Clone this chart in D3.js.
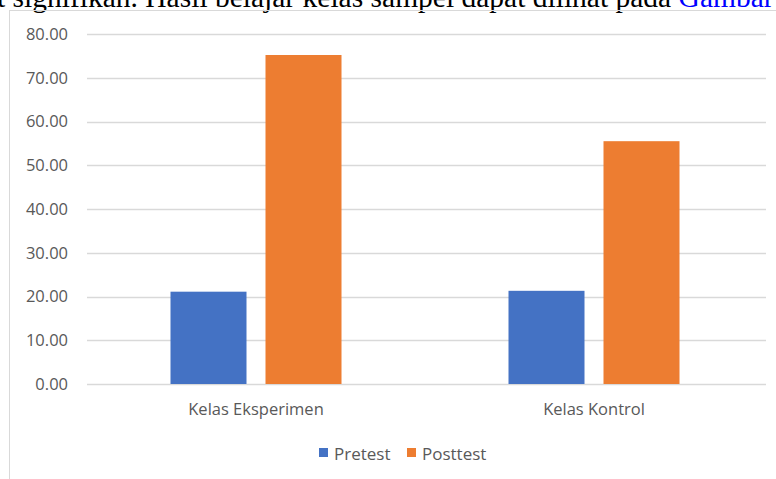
<!DOCTYPE html>
<html>
<meta charset="utf-8">
<head>
<title>pretest posttest</title>
<script src="https://d3js.org/d3.v7.min.js"></script>
<style>
  body { margin: 0; background: #fff; }
  svg { display: block; }
</style>
</head>
<body>
<div id="plot"></div>
<script>

// data
var categories = ["Kelas Eksperimen", "Kelas Kontrol"];
var seriesNames = ["Pretest", "Posttest"];
var pretest = [21.1, 21.3];
var posttest = [75.2, 55.5];
var yTicks = [0, 10, 20, 30, 40, 50, 60, 70, 80];
var captionText = "t signifikan. Hasil belajar kelas sampel dapat dilihat pada ";
var captionLink = "Gambar";

var colors = ["#4472c4", "#ed7d31"];

var width = 776, height = 479;
var plot = { left: 87, right: 763, top: 34, bottom: 384 };

var svg = d3.select("#plot").append("svg")
  .attr("width", width)
  .attr("height", height);

// caption line from the page, cut at the top
var cap = svg.append("text")
  .attr("x", -3)
  .attr("y", 7)
  .attr("font-family", "Liberation Serif, Times New Roman, serif")
  .attr("font-size", 29.5)
  .attr("fill", "#000");
cap.append("tspan").text(captionText);
cap.append("tspan").attr("fill", "#0000ff").text(captionLink);

// chart frame
svg.append("rect")
  .attr("x", 9.5)
  .attr("y", 10.5)
  .attr("width", 780)
  .attr("height", 480)
  .attr("fill", "none")
  .attr("stroke", "#d9d9d9");

var xScale = d3.scaleBand()
  .domain(categories)
  .range([plot.left, plot.right])
  .paddingInner(0)
  .paddingOuter(0);

var yScale = d3.scaleLinear()
  .domain([0, 80])
  .range([plot.bottom, plot.top]);

var barW = 76, gap = 19;
var xSeries = d3.scaleBand()
  .domain(seriesNames)
  .range([0, barW * 2 + gap])
  .paddingInner(gap / (barW + gap))
  .paddingOuter(0);

// gridlines
svg.append("g")
  .selectAll("line")
  .data(yTicks)
  .enter()
  .append("line")
  .attr("x1", plot.left)
  .attr("x2", plot.right + 3)
  .attr("y1", function(d){ return Math.round(yScale(d)) + 0.5; })
  .attr("y2", function(d){ return Math.round(yScale(d)) + 0.5; })
  .attr("stroke", "#d9d9d9")
  .attr("stroke-width", 1.5);

// y axis labels
var yAxis = d3.axisLeft(yScale)
  .tickValues(yTicks)
  .tickFormat(d3.format(".2f"))
  .tickSize(0)
  .tickPadding(0);

svg.append("g")
  .attr("transform", "translate(" + 68 + ",0)")
  .call(yAxis)
  .call(function(g){ g.select(".domain").remove(); })
  .selectAll("text")
  .attr("font-family", "Open Sans, sans-serif")
  .attr("font-size", 16.5)
  .attr("fill", "#595959");

// bars
var rows = categories.map(function(c, i){
  return { cat: c, values: [pretest[i], posttest[i]] };
});

var groups = svg.append("g")
  .selectAll("g")
  .data(rows)
  .enter()
  .append("g")
  .attr("transform", function(d){
    var off = (xScale.bandwidth() - xSeries.range()[1]) / 2;
    return "translate(" + (xScale(d.cat) + off) + ",0)";
  });

groups.selectAll("rect")
  .data(function(d){ return d.values.map(function(v, j){ return { s: seriesNames[j], v: v, j: j }; }); })
  .enter()
  .append("rect")
  .attr("x", function(d){ return xSeries(d.s); })
  .attr("width", xSeries.bandwidth())
  .attr("y", function(d){ return yScale(d.v); })
  .attr("height", function(d){ return yScale(0) - yScale(d.v); })
  .attr("fill", function(d){ return colors[d.j]; });

// x axis labels
var xAxis = d3.axisBottom(xScale).tickSize(0).tickPadding(0);
svg.append("g")
  .attr("transform", "translate(0," + (plot.bottom + 19) + ")")
  .call(xAxis)
  .call(function(g){ g.select(".domain").remove(); })
  .selectAll("text")
  .attr("font-family", "Open Sans, sans-serif")
  .attr("font-size", 16.5)
  .attr("fill", "#595959");

// legend
var legendX = [319, 407];
var legend = svg.append("g")
  .selectAll("g")
  .data(seriesNames)
  .enter()
  .append("g")
  .attr("transform", function(d, i){ return "translate(" + legendX[i] + ",448)"; });

legend.append("rect")
  .attr("width", 9)
  .attr("height", 9)
  .attr("fill", function(d, i){ return colors[i]; });

legend.append("text")
  .attr("x", 15)
  .attr("y", 12)
  .attr("font-family", "Open Sans, sans-serif")
  .attr("font-size", 17)
  .attr("fill", "#595959")
  .text(function(d){ return d; });

</script>
</body>
</html>
